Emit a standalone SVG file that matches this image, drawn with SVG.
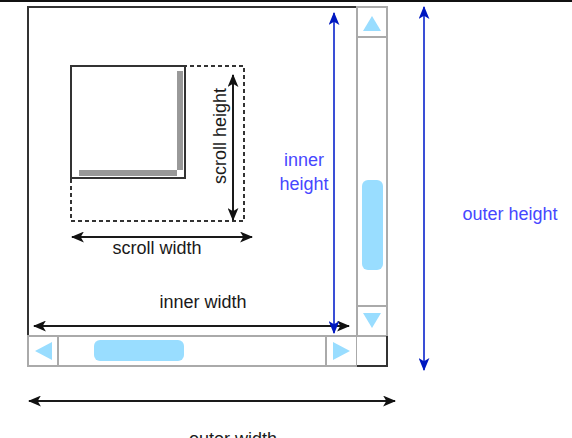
<svg xmlns="http://www.w3.org/2000/svg" width="572" height="438" viewBox="0 0 572 438">
<style>
.lbl{font-family:"Liberation Sans",Arial,sans-serif;font-size:18px;fill:#1a1a1a;text-anchor:middle}
.blbl{font-family:"Liberation Sans",Arial,sans-serif;font-size:18px;fill:#4747ff;text-anchor:middle}
.dim{stroke:#1a1a1a;stroke-width:2;fill:none}
.bdim{stroke:#3a4fd6;stroke-width:2;fill:none}
.sb{fill:#fff;stroke:#aaa;stroke-width:2}
.tri{fill:#99ddff}
.thumb{fill:#99ddff}
</style>
<defs>
<marker id="ak" viewBox="0 0 12 10" refX="11" refY="5" markerWidth="13" markerHeight="11" markerUnits="userSpaceOnUse" orient="auto-start-reverse">
<path d="M0,0 L12,5 L0,10 L3,5 z" fill="#111"/>
</marker>
<marker id="ab" viewBox="0 0 12 10" refX="11" refY="5" markerWidth="13" markerHeight="11" markerUnits="userSpaceOnUse" orient="auto-start-reverse">
<path d="M0,0 L12,5 L0,10 L3,5 z" fill="#0018c0"/>
</marker>
</defs>
<rect x="0" y="0" width="572" height="2" fill="#111"/>
<g id="window">
<rect x="28" y="7" width="359" height="359" fill="#fff" stroke="#333" stroke-width="2"/>
</g>
<g id="content">
<rect x="71" y="66" width="173" height="155" fill="none" stroke="#333" stroke-width="2" stroke-dasharray="4 3"/>
<rect x="71" y="66" width="114" height="112" fill="#fff" stroke="#333" stroke-width="2"/>
<rect x="177" y="71" width="6" height="99" fill="#999"/>
<rect x="79" y="170" width="98" height="6" fill="#999"/>
</g>
<g id="vscroll">
<rect class="sb" x="357" y="7" width="30" height="329"/>
<line x1="357" y1="37" x2="387" y2="37" stroke="#aaa" stroke-width="2"/>
<line x1="357" y1="306" x2="387" y2="306" stroke="#aaa" stroke-width="2"/>
<polygon class="tri" points="372,16 381,31 363,31"/>
<polygon class="tri" points="372,328 381,313 363,313"/>
<rect class="thumb" x="362" y="180" width="21" height="90" rx="6"/>
</g>
<g id="hscroll">
<rect class="sb" x="28" y="336" width="329" height="30"/>
<line x1="58" y1="336" x2="58" y2="366" stroke="#aaa" stroke-width="2"/>
<line x1="326" y1="336" x2="326" y2="366" stroke="#aaa" stroke-width="2"/>
<polygon class="tri" points="35,351 52,342 52,360"/>
<polygon class="tri" points="350,351 333,342 333,360"/>
<rect class="thumb" x="94" y="340" width="90" height="21" rx="6"/>
</g>
<g id="corner">
<path d="M357,336 H387 V366 H357" fill="#fff" stroke="#aaa" stroke-width="2"/>
<path d="M387,336 V366 H357" fill="none" stroke="#333" stroke-width="2"/>
</g>
<g id="connectors">
<line class="dim" x1="233" y1="75" x2="233" y2="220" marker-start="url(#ak)" marker-end="url(#ak)"/>
<line class="dim" x1="72" y1="237" x2="252" y2="237" marker-start="url(#ak)" marker-end="url(#ak)"/>
<line class="dim" x1="34" y1="326" x2="349" y2="326" marker-start="url(#ak)" marker-end="url(#ak)"/>
<line class="dim" x1="29" y1="401" x2="395" y2="401" marker-start="url(#ak)" marker-end="url(#ak)"/>
<line class="bdim" x1="334" y1="13" x2="334" y2="333" marker-start="url(#ab)" marker-end="url(#ab)"/>
<line class="bdim" x1="424" y1="7" x2="424" y2="370" marker-start="url(#ab)" marker-end="url(#ab)"/>
</g>
<g id="labels">
<text class="lbl" transform="translate(226,136) rotate(-90)">scroll height</text>
<text class="lbl" x="157" y="254">scroll width</text>
<text class="lbl" x="203" y="308">inner width</text>
<text class="lbl" x="233" y="445">outer width</text>
<text class="blbl" x="304" y="166">inner</text>
<text class="blbl" x="304" y="190">height</text>
<text class="blbl" x="510" y="220">outer height</text>
</g>
</svg>
